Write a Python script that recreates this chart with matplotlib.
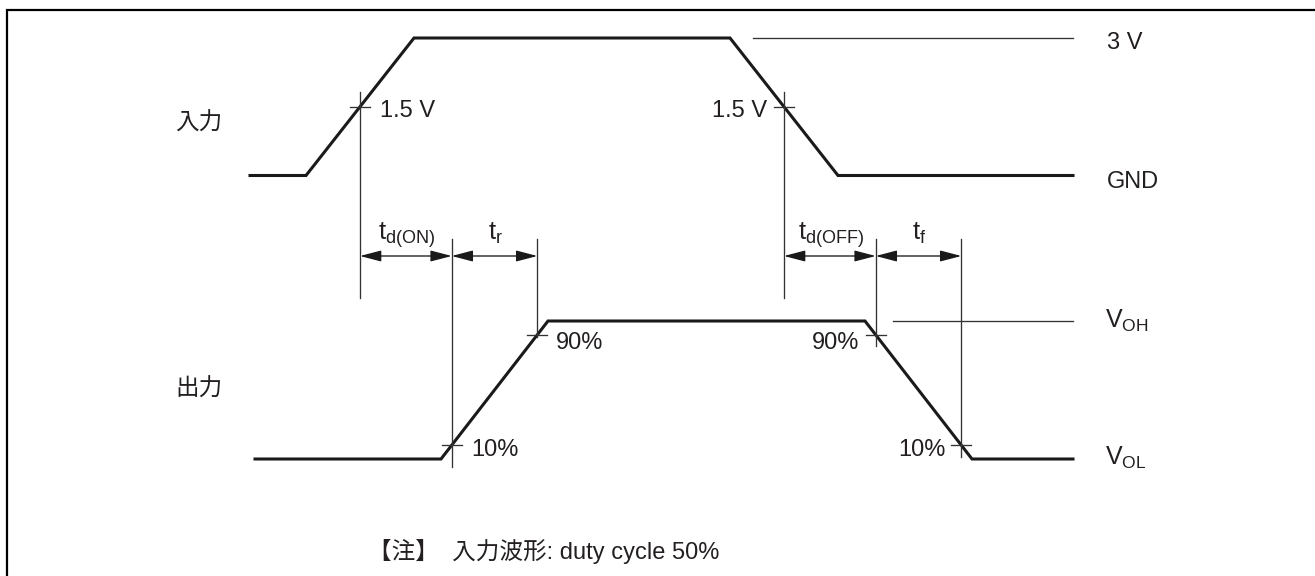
import numpy as np
import matplotlib
matplotlib.use("Agg")
import matplotlib.pyplot as plt

plt.rcParams['font.family'] = ['Liberation Sans', 'Noto Sans CJK JP', 'DejaVu Sans']
plt.rcParams['mathtext.fontset'] = 'custom'
plt.rcParams['mathtext.rm'] = 'Liberation Sans'
plt.rcParams['mathtext.it'] = 'Liberation Sans'
plt.rcParams['mathtext.bf'] = 'Liberation Sans'

# ---------------- data ----------------
# input waveform: time points (diagram x units) and voltage (V)
in_t = [250, 306, 414, 730, 838, 1073]
in_v = [0.0, 0.0, 3.0, 3.0, 0.0, 0.0]
in_threshold = 1.5           # V
in_levels = [3.0, 0.0]
in_level_labels = ['3 V', 'GND']

# output waveform: time points and level (% of swing)
out_t = [255, 441, 548, 865, 972, 1073]
out_p = [0, 0, 100, 100, 0, 0]
out_marks = [10, 90]         # %
out_level_labels = [r'$V_{OH}$', r'$V_{OL}$']

interval_labels = [r'$t_{d(ON)}$', r'$t_{r}$', r'$t_{d(OFF)}$', r'$t_{f}$']
row_labels = ['入力', '出力']
note = '【注】  入力波形: duty cycle 50%'

# ---------------- layout (diagram coordinates) ----------------
IN_Y0, IN_Y3 = 175.5, 38.0     # y of 0 V and 3 V
OUT_Y0, OUT_Y100 = 459.0, 321.0
def yin(v):
    return IN_Y0 + (IN_Y3 - IN_Y0) * np.asarray(v) / 3.0
def yout(p):
    return OUT_Y0 + (OUT_Y100 - OUT_Y0) * np.asarray(p) / 100.0

def crossing(ts, vs, level, rising):
    ts = np.asarray(ts, float); vs = np.asarray(vs, float)
    for i in range(len(ts) - 1):
        a, b = vs[i], vs[i + 1]
        if rising and a < level <= b or (not rising) and a > level >= b:
            return ts[i] + (level - a) / (b - a) * (ts[i + 1] - ts[i])
    return None

W, H = 1315, 576
fig = plt.figure(figsize=(W / 100, H / 100), dpi=100)
ax = fig.add_axes([0, 0, 1, 1])
ax.set_xlim(0, W)
ax.set_ylim(H, 0)
ax.axis('off')

TXT = '#231f20'
FS = 17
thick = 2.2
thin = 0.95

# frame (top and left edges)
ax.plot([7.5, 7.5, W], [H, 10, 10], color='black', lw=1.6, solid_capstyle='butt',
        solid_joinstyle='miter', clip_on=False)

# waveforms
ax.plot(in_t, yin(in_v), color='#1a1a1a', lw=thick, solid_joinstyle='miter')
ax.plot(out_t, yout(out_p), color='#1a1a1a', lw=thick, solid_joinstyle='miter')

# reference lines
ax.plot([753, in_t[-1]], [yin(3.0)] * 2, color='#333333', lw=thin)
ax.plot([893, out_t[-1]], [yout(100)] * 2, color='#333333', lw=thin)

# crossing points
x_in_r = crossing(in_t, in_v, in_threshold, True)
x_in_f = crossing(in_t, in_v, in_threshold, False)
x_o10r = crossing(out_t, out_p, out_marks[0], True)
x_o90r = crossing(out_t, out_p, out_marks[1], True)
x_o90f = crossing(out_t, out_p, out_marks[1], False)
x_o10f = crossing(out_t, out_p, out_marks[0], False)

TICK = 10
def tick(x, y):
    ax.plot([x - TICK, x + TICK], [y, y], color='#333333', lw=thin)

y15 = float(yin(in_threshold))
y10 = float(yout(out_marks[0]))
y90 = float(yout(out_marks[1]))
tick(x_in_r, y15); tick(x_in_f, y15)
tick(x_o10r, y10); tick(x_o90r, y90); tick(x_o90f, y90); tick(x_o10f, y10)

# vertical guide lines
TOP_IN, BOT_IN = 92, 298
TOP_OUT = 239
ax.plot([x_in_r] * 2, [TOP_IN, BOT_IN], color='#333333', lw=thin)
ax.plot([x_in_f] * 2, [TOP_IN, BOT_IN], color='#333333', lw=thin)
ax.plot([x_o10r] * 2, [TOP_OUT, y10 + 22], color='#333333', lw=thin)
ax.plot([x_o90r] * 2, [TOP_OUT, y90 + 2], color='#333333', lw=thin)
ax.plot([x_o90f] * 2, [TOP_OUT, y90 + 11], color='#333333', lw=thin)
ax.plot([x_o10f] * 2, [TOP_OUT, y10 + 12], color='#333333', lw=thin)

# dimension arrows
ARROW_Y = 256
spans = [(x_in_r, x_o10r), (x_o10r, x_o90r), (x_in_f, x_o90f), (x_o90f, x_o10f)]
for (a, b), lab in zip(spans, interval_labels):
    ax.annotate('', xy=(b, ARROW_Y), xytext=(a, ARROW_Y),
                arrowprops=dict(arrowstyle='<|-|>,head_length=1.3,head_width=0.34',
                                color='#1a1a1a', lw=thin, shrinkA=0, shrinkB=0,
                                mutation_scale=10))
    ax.text((a + b) / 2 + 1, 240, lab, ha='center', va='baseline', fontsize=18.5, color=TXT)

# threshold labels
ax.text(x_in_r + 20, 117, '1.5 V', ha='left', va='baseline', fontsize=FS, color=TXT)
ax.text(x_in_f - 17, 117, '1.5 V', ha='right', va='baseline', fontsize=FS, color=TXT)
ax.text(x_o90r + 19, 349, '90%', ha='left', va='baseline', fontsize=FS, color=TXT)
ax.text(x_o10r + 20, 456, '10%', ha='left', va='baseline', fontsize=FS, color=TXT)
ax.text(x_o90f - 16, 349, '90%', ha='right', va='baseline', fontsize=FS, color=TXT)
ax.text(x_o10f - 16, 456, '10%', ha='right', va='baseline', fontsize=FS, color=TXT)

# level labels
ax.text(1107, 49, in_level_labels[0], ha='left', va='baseline', fontsize=FS, color=TXT)
ax.text(1107, 188, in_level_labels[1], ha='left', va='baseline', fontsize=FS, color=TXT)
ax.text(1105, 328, out_level_labels[0], ha='left', va='baseline', fontsize=18, color=TXT)
ax.text(1105, 465, out_level_labels[1], ha='left', va='baseline', fontsize=18, color=TXT)

# row labels
cjk = ['Noto Sans CJK JP', 'DejaVu Sans']
ax.text(175, 123, row_labels[0], ha='left', va='center', fontsize=FS, color=TXT, family=cjk)
ax.text(175, 389, row_labels[1], ha='left', va='center', fontsize=FS, color=TXT, family=cjk)

# note
ax.text(368, 552, note, ha='left', va='center', fontsize=FS, color=TXT,
        family=['Liberation Sans', 'Noto Sans CJK JP'])

fig.savefig('out.png', dpi=100, facecolor='white')
